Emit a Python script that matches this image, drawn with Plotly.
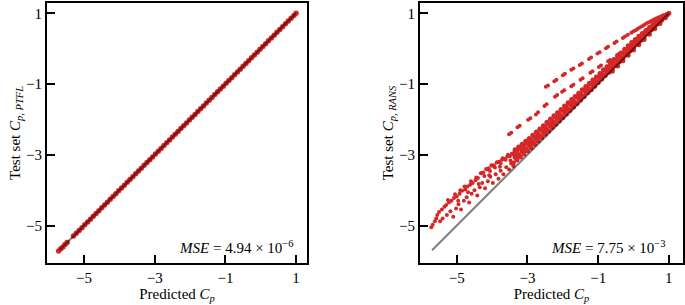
import plotly.graph_objects as go

RED = "#d62728"
FONT = "Liberation Serif"

# ---------------- data ----------------
tick_vals = [-5, -3, -1, 1]
tick_text = ["\u22125", "\u22123", "\u22121", "1"]

diag_x = [-5.7, 1.0]
diag_y = [-5.7, 1.0]

# left panel: PTFL vs predicted
ptfl_x = [-5.72, -5.66, -5.6, -5.54, -5.48, -5.3, -5.22, -5.14, -5.06, -4.98, -4.9, -4.82, -4.74,
          -4.66, -4.58, -4.5, -4.42, -4.34, -4.26, -4.18, -4.1, -4.02, -3.94, -3.86, -3.78, -3.7,
          -3.62, -3.54, -3.46, -3.38, -3.3, -3.22, -3.14, -3.06, -2.98, -2.9, -2.82, -2.74, -2.66,
          -2.58, -2.5, -2.42, -2.34, -2.26, -2.18, -2.1, -2.02, -1.94, -1.86, -1.78, -1.7, -1.62,
          -1.54, -1.46, -1.38, -1.3, -1.22, -1.14, -1.06, -0.98, -0.9, -0.82, -0.74, -0.66, -0.58,
          -0.5, -0.42, -0.34, -0.26, -0.18, -0.1, -0.02, 0.06, 0.14, 0.22, 0.3, 0.38, 0.46, 0.54,
          0.62, 0.7, 0.78, 0.86, 0.94, 1.0]
ptfl_y = [-5.72, -5.66, -5.61, -5.54, -5.48, -5.3, -5.22, -5.14, -5.06, -4.98, -4.9, -4.82, -4.74,
          -4.66, -4.58, -4.5, -4.42, -4.34, -4.26, -4.18, -4.1, -4.02, -3.94, -3.86, -3.78, -3.7,
          -3.62, -3.54, -3.46, -3.38, -3.3, -3.22, -3.14, -3.06, -2.98, -2.9, -2.82, -2.74, -2.66,
          -2.58, -2.5, -2.42, -2.34, -2.26, -2.18, -2.1, -2.02, -1.94, -1.86, -1.78, -1.7, -1.62,
          -1.54, -1.46, -1.38, -1.3, -1.22, -1.14, -1.06, -0.98, -0.9, -0.82, -0.74, -0.66, -0.58,
          -0.5, -0.42, -0.34, -0.26, -0.18, -0.1, -0.02, 0.06, 0.14, 0.22, 0.3, 0.38, 0.46, 0.54,
          0.62, 0.7, 0.78, 0.86, 0.94, 1.0]

# right panel: RANS vs predicted -- main band, lower scattered part
rans_low_x = [-5.72, -5.68, -5.62, -5.58, -5.55, -5.5, -5.47, -5.42, -5.4, -5.35, -5.3, -5.28, -5.22,
              -5.18, -5.15, -5.1, -5.08, -5.02, -5.0, -4.95, -4.92, -4.88, -4.85, -4.8, -4.76, -4.72,
              -4.7, -4.65, -4.62, -4.58, -4.55, -4.5, -4.47, -4.42, -4.4, -4.35, -4.32, -4.28, -4.25,
              -4.2, -4.17, -4.12, -4.1, -4.05, -4.02, -3.98, -3.95, -3.9, -3.87, -3.82, -3.8, -3.76,
              -3.72, -3.68, -3.65, -3.6, -3.57, -3.52, -3.5, -3.46, -3.44, -3.4,
              -5.25, -5.05, -4.9, -4.78, -4.6, -4.45, -4.3, -4.15, -4.0, -3.85, -3.7, -3.55,
              -4.96, -4.68, -4.38, -4.08, -3.78, -3.48, -4.22, -4.06, -3.92, -3.76, -3.62]
rans_low_y = [-5.05, -4.98, -4.88, -4.8, -4.7, -4.62, -4.88, -4.55, -4.8, -4.47, -4.42, -4.7, -4.35,
              -4.6, -4.3, -4.75, -4.22, -4.52, -4.18, -4.4, -4.1, -4.55, -4.02, -4.3, -3.98, -4.2,
              -3.9, -4.35, -3.85, -4.1, -3.8, -4.0, -3.72, -4.15, -3.66, -3.92, -3.52, -3.8, -3.5,
              -3.95, -3.4, -3.75, -3.38, -3.62, -3.3, -3.8, -3.3, -3.55, -3.22, -3.68, -3.2, -3.45,
              -3.14, -3.55, -3.12, -3.35, -3.05, -3.42, -3.04, -3.25, -2.97, -3.32,
              -4.28, -4.12, -4.0, -3.9, -3.75, -3.64, -3.52, -3.42, -3.31, -3.21, -3.1, -3.0,
              -4.3, -4.06, -3.83, -3.58, -3.34, -3.16, -3.6, -3.46, -3.36, -3.24, -3.14]

# main band, dense upper part (rows across the band)
band_a_x = [-3.4, -3.3, -3.2, -3.1, -3.0, -2.9, -2.8, -2.7, -2.6, -2.5, -2.4, -2.3, -2.2, -2.1, -2.0,
            -1.9, -1.8, -1.7, -1.6, -1.5, -1.4, -1.3, -1.2, -1.1, -1.0, -0.9, -0.8, -0.7, -0.6, -0.5,
            -0.4, -0.3, -0.2, -0.1, 0.0, 0.1, 0.2, 0.3, 0.4, 0.5, 0.6, 0.7, 0.8, 0.9, 1.0]
band_a_y = [-3.23, -3.15, -3.06, -2.98, -2.89, -2.8, -2.7, -2.61, -2.51, -2.42, -2.33, -2.23, -2.14,
            -2.04, -1.95, -1.85, -1.75, -1.65, -1.55, -1.45, -1.35, -1.25, -1.16, -1.06, -0.96,
            -0.86, -0.76, -0.67, -0.57, -0.47, -0.37, -0.27, -0.17, -0.07, 0.03, 0.13, 0.23, 0.33,
            0.43, 0.53, 0.62, 0.72, 0.81, 0.91, 1.0]
band_b_x = [-3.35, -3.25, -3.15, -3.05, -2.95, -2.85, -2.75, -2.65, -2.55, -2.45, -2.35, -2.25, -2.15,
            -2.05, -1.95, -1.85, -1.75, -1.65, -1.55, -1.45, -1.35, -1.25, -1.15, -1.05, -0.95,
            -0.85, -0.75, -0.65, -0.55, -0.45, -0.35, -0.25, -0.15, -0.05, 0.05, 0.15, 0.25, 0.35,
            0.45, 0.55, 0.65, 0.75, 0.85, 0.95]
band_b_y = [-3.07, -2.99, -2.91, -2.83, -2.74, -2.65, -2.56, -2.47, -2.37, -2.28, -2.19, -2.09, -2.0,
            -1.91, -1.81, -1.72, -1.62, -1.52, -1.42, -1.33, -1.23, -1.14, -1.04, -0.94, -0.85,
            -0.75, -0.65, -0.55, -0.45, -0.36, -0.26, -0.16, -0.06, 0.04, 0.14, 0.23, 0.32, 0.42,
            0.51, 0.61, 0.69, 0.78, 0.87, 0.96]
band_c_x = [-3.4, -3.3, -3.2, -3.1, -3.0, -2.9, -2.8, -2.7, -2.6, -2.5, -2.4, -2.3, -2.2, -2.1, -2.0,
            -1.9, -1.8, -1.7, -1.6, -1.5, -1.4, -1.3, -1.2, -1.1, -1.0, -0.9, -0.8, -0.7, -0.6, -0.5,
            -0.4, -0.3, -0.2, -0.1, 0.0, 0.1, 0.2, 0.3, 0.4, 0.5, 0.6, 0.7, 0.8, 0.9]
band_c_y = [-2.97, -2.89, -2.82, -2.74, -2.67, -2.58, -2.49, -2.4, -2.3, -2.21, -2.12, -2.03, -1.93,
            -1.84, -1.75, -1.65, -1.56, -1.47, -1.37, -1.28, -1.18, -1.09, -0.99, -0.9, -0.81,
            -0.71, -0.61, -0.51, -0.41, -0.32, -0.22, -0.12, -0.03, 0.07, 0.17, 0.26, 0.35, 0.44,
            0.53, 0.62, 0.7, 0.78, 0.85, 0.93]
band_d_x = [-3.35, -3.25, -3.15, -3.05, -2.95, -2.85, -2.75, -2.65, -2.55, -2.45, -2.35, -2.25, -2.15,
            -2.05, -1.95, -1.85, -1.75, -1.65, -1.55, -1.45, -1.35, -1.25, -1.15, -1.05, -0.95,
            -0.85, -0.75, -0.65, -0.55, -0.45, -0.35, -0.25, -0.15, -0.05, 0.05, 0.15, 0.25, 0.35,
            0.45, 0.55, 0.65, 0.75, 0.85, 0.95]
band_d_y = [-2.86, -2.78, -2.7, -2.62, -2.54, -2.45, -2.36, -2.27, -2.18, -2.08, -1.99, -1.9, -1.81,
            -1.72, -1.62, -1.53, -1.44, -1.35, -1.26, -1.16, -1.07, -0.98, -0.89, -0.8, -0.7, -0.6,
            -0.51, -0.41, -0.31, -0.21, -0.12, -0.02, 0.08, 0.17, 0.26, 0.35, 0.43, 0.51, 0.6,
            0.68, 0.75, 0.81, 0.88, 0.95]
band_e_x = [-0.6, -0.45, -0.3, -0.15, 0.0, 0.15, 0.3, 0.45, 0.6, 0.75, 0.9,
            -3.3, -3.1, -2.9, -2.7, -2.5, -2.3, -2.1, -1.9, -1.7, -1.5, -1.3, -1.1, -0.9, -0.7]
band_e_y = [-0.64, -0.49, -0.34, -0.19, -0.04, 0.11, 0.26, 0.41, 0.56, 0.71, 0.87,
            -3.02, -2.86, -2.69, -2.5, -2.32, -2.13, -1.94, -1.74, -1.55, -1.36, -1.16, -0.97, -0.78,
            -0.59]

# right panel: two dotted branches above the band
branch_lo_x = [-3.52, -3.46, -3.28, -3.22, -2.98, -2.92, -2.76, -2.7, -2.52, -2.46, -2.22, -2.16,
               -2.02, -1.96, -1.76, -1.7, -1.5, -1.44, -1.22, -1.16, -0.98, -0.92, -0.72, -0.66,
               -0.46, -0.4, -0.2, -0.14, 0.06, 0.12, 0.3, 0.36, 0.52, 0.58, 0.72, 0.78]
branch_lo_y = [-2.42, -2.38, -2.22, -2.18, -2.01, -1.97, -1.86, -1.8, -1.62, -1.57, -1.36, -1.31,
               -1.22, -1.18, -1.06, -1.02, -0.88, -0.84, -0.68, -0.64, -0.52, -0.48, -0.36, -0.32,
               -0.18, -0.14, -0.02, 0.02, 0.2, 0.25, 0.39, 0.44, 0.58, 0.63, 0.75, 0.8]
branch_hi_x = [-2.48, -2.42, -2.24, -2.18, -2.0, -1.94, -1.76, -1.7, -1.52, -1.46, -1.26, -1.2,
               -1.02, -0.96, -0.78, -0.72, -0.54, -0.48, -0.3, -0.24, -0.16, -0.06, 0.0, 0.06, 0.12,
               0.18, 0.24, 0.3, 0.36, 0.42, 0.48, 0.54, 0.6, 0.64, 0.7, 0.76, 0.8, 0.86, 0.94]
branch_hi_y = [-1.08, -1.04, -0.92, -0.88, -0.75, -0.71, -0.6, -0.56, -0.46, -0.42, -0.29, -0.25,
               -0.14, -0.1, 0.01, 0.05, 0.16, 0.2, 0.3, 0.34, 0.39, 0.45, 0.49, 0.52, 0.56, 0.6,
               0.63, 0.67, 0.71, 0.74, 0.77, 0.8, 0.83, 0.85, 0.88, 0.9, 0.92, 0.95, 0.98]

mse_left = "<i>MSE</i> = 4.94 \u00d7 10<sup>\u22126</sup>"
mse_right = "<i>MSE</i> = 7.75 \u00d7 10<sup>\u22123</sup>"

# ---------------- figure ----------------
fig = go.Figure()

def pts(x, y, xa, ya, size):
    fig.add_trace(go.Scatter(x=x, y=y, mode="markers", xaxis=xa, yaxis=ya,
                             marker=dict(color=RED, size=size, line=dict(width=0)),
                             showlegend=False, hoverinfo="skip"))

pts(ptfl_x, ptfl_y, "x", "y", 5.5)
fig.add_trace(go.Scatter(x=diag_x, y=diag_y, mode="lines", xaxis="x", yaxis="y",
                         line=dict(color="rgba(0,0,0,0.5)", width=2),
                         showlegend=False, hoverinfo="skip"))

pts(rans_low_x, rans_low_y, "x2", "y2", 4)
for xs, ys in [(band_a_x, band_a_y), (band_b_x, band_b_y), (band_c_x, band_c_y),
               (band_d_x, band_d_y), (band_e_x, band_e_y)]:
    pts(xs, ys, "x2", "y2", 5)
for xs, ys in [(branch_lo_x, branch_lo_y), (branch_hi_x, branch_hi_y)]:
    pts(xs, ys, "x2", "y2", 4)
fig.add_trace(go.Scatter(x=diag_x, y=diag_y, mode="lines", xaxis="x2", yaxis="y2",
                         line=dict(color="rgba(0,0,0,0.5)", width=2),
                         showlegend=False, hoverinfo="skip"))

W, H = 685, 305
ML, MR, MT, MB = 47, 2, 3, 41.5
PW = W - ML - MR
axis_common = dict(showline=True, mirror=True, linecolor="black", linewidth=2,
                   ticks="inside", ticklen=8, tickwidth=2, tickcolor="black",
                   showgrid=False, zeroline=False, automargin=False,
                   tickvals=tick_vals, ticktext=tick_text,
                   tickfont=dict(family=FONT, size=15, color="black"))
xtitle = dict(text="Predicted <i>C<sub>p</sub></i>", font=dict(family=FONT, size=15, color="black"), standoff=3)

fig.update_layout(
    template="none", autosize=False,
    width=W, height=H, margin=dict(l=ML, r=MR, t=MT, b=MB, pad=0),
    paper_bgcolor="white", plot_bgcolor="white",
    font=dict(family=FONT, color="black"),
    xaxis=dict(domain=[0, 260 / PW], range=[-6.05, 1.31], anchor="y", title=xtitle, **axis_common),
    yaxis=dict(domain=[0, 1], range=[-6.06, 1.29], anchor="x",
               title=dict(text="Test set <i>C<sub>p, PTFL</sub></i>", font=dict(family=FONT, size=15, color="black"), standoff=2),
               **axis_common),
    xaxis2=dict(domain=[(420 - ML) / PW, 1], range=[-6.04, 1.4], anchor="y2", title=xtitle, **axis_common),
    yaxis2=dict(domain=[0, 1], range=[-6.06, 1.29], anchor="x2",
                title=dict(text="Test set <i>C<sub>p, RANS</sub></i>", font=dict(family=FONT, size=15, color="black"), standoff=2),
                **axis_common),
    annotations=[
        dict(text=mse_left, xref="x domain", yref="y domain", x=0.958, y=0.062,
             xanchor="right", yanchor="middle", showarrow=False,
             font=dict(family=FONT, size=15, color="black")),
        dict(text=mse_right, xref="x2 domain", yref="y2 domain", x=0.943, y=0.062,
             xanchor="right", yanchor="middle", showarrow=False,
             font=dict(family=FONT, size=15, color="black")),
    ],
)

fig.write_html("out.html", config={"displayModeBar": False},
               post_script="document.body.style.margin='0';document.body.style.padding='0';")
